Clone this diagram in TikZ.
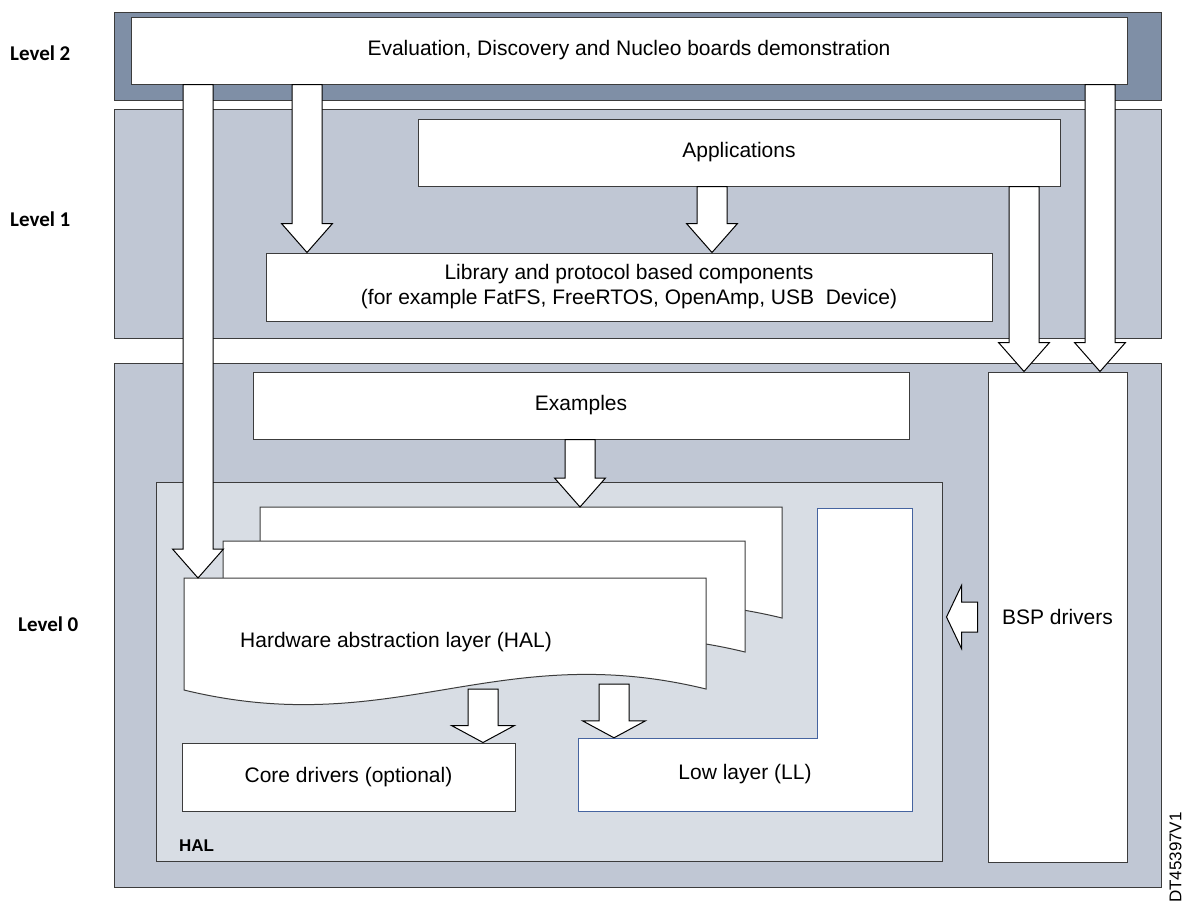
\documentclass[tikz,border=0pt]{standalone}
\usepackage{fontspec}
\setmainfont{Liberation Sans}
\newfontfamily\lvlfont{Carlito}
\usetikzlibrary{calc}
\definecolor{topband}{RGB}{127,143,166}
\definecolor{bandfill}{RGB}{192,199,212}
\definecolor{halgray}{RGB}{216,221,228}
\definecolor{edge}{RGB}{60,60,60}
\definecolor{lledge}{RGB}{70,100,160}

\newcommand\blkarrow[5]{%
  \draw[blk] let \p1=(#2), \p2=(#3) in
    (#1pt-15pt,\y1) -- (#1pt+15pt,\y1) -- (#1pt+15pt,\y2+#4pt)
    -- (#1pt+#5pt,\y2+#4pt) -- (#1pt,\y2) -- (#1pt-#5pt,\y2+#4pt)
    -- (#1pt-15pt,\y2+#4pt) -- cycle;}
\newcommand\halpage[2]{%
  \begin{scope}[shift={(#1,#2)}]
    \draw[page] (0,0) -- (522,0) -- (522,111)
      .. controls (313,60) and (209,163) .. (0,112) -- cycle;
  \end{scope}}

\begin{document}
\begin{tikzpicture}[x=1pt,y=-1pt,
  band/.style={draw=edge,line width=1pt,fill=#1,minimum width=1047,inner sep=0pt},
  box/.style={draw=edge,line width=1pt,fill=white,inner sep=0pt,align=center,
    font=\fontsize{21}{25}\selectfont},
  page/.style={draw=edge,line width=1pt,fill=white},
  blk/.style={draw=black,line width=1pt,fill=white,line join=miter},
  lvl/.style={anchor=west,inner sep=0pt,font=\lvlfont\bfseries\fontsize{21}{25}\selectfont}]
\useasboundingbox (0,0) rectangle (1192,906);

\node[band=topband,minimum height=88] (lvl2) at (637.5,56) {};
\node[band=bandfill,minimum height=229] (lvl1) at (637.5,223.5) {};
\node[band=bandfill,minimum height=524] (lvl0) at (637.5,625) {};

\node[box,minimum width=996,minimum height=67] (eval) at (629,50.5)
  {Evaluation, Discovery and Nucleo boards demonstration};
\node[box,minimum width=642,minimum height=67] (apps) at (739,152.5) {Applications};
\node[box,minimum width=726,minimum height=68] (lib) at (629,287)
  {Library and protocol based components\\(for example FatFS, FreeRTOS, OpenAmp, USB\ \ Device)};
\node[box,minimum width=656,minimum height=67] (examples) at (581,405.5) {Examples};
\node[draw=edge,line width=1pt,fill=halgray,minimum width=786,minimum height=379] (hal) at (549,671.5) {};
\node[box,minimum width=139,minimum height=490] (bsp) at (1057.5,617) {BSP drivers};
\node[box,minimum width=333,minimum height=68] (core) at (348.5,777) {Core drivers (optional)};

\filldraw[fill=white,draw=lledge,line width=0.8pt]
  (578,738) -- (817,738) -- (817,508) -- (912,508) -- (912,811) -- (578,811) -- cycle;
\node[inner sep=0pt,minimum width=334,minimum height=73,font=\fontsize{21}{25}\selectfont]
  (ll) at (745,774.5) {Low layer (LL)};
\node[anchor=west,inner sep=0pt,font=\bfseries\fontsize{17}{20}\selectfont] (hallbl) at (179,846) {HAL};

\coordinate (halA) at (483,689);
\coordinate (halB) at (614,684);
\blkarrow{483}{halA}{core.north}{17}{31.5}
\blkarrow{614}{halB}{ll.north}{17}{31.5}

\halpage{260}{507}
\halpage{223}{541}
\halpage{184}{578}
\coordinate (pageback) at (260,507);
\coordinate (pagefront) at (184,578);
\node[font=\fontsize{21}{25}\selectfont] (halpg) at (396,642) {Hardware abstraction layer (HAL)};

\blkarrow{198}{eval.south}{pagefront}{29}{25.5}
\blkarrow{307}{eval.south}{lib.north}{29}{25.5}
\blkarrow{712}{apps.south}{lib.north}{29}{25.5}
\blkarrow{1024}{apps.south}{bsp.north}{29}{25.5}
\blkarrow{1100}{eval.south}{bsp.north}{29}{25.5}
\blkarrow{580}{examples.south}{pageback}{29}{25.5}
\draw[blk] let \p1=(bsp.west), \p2=(hal.east) in
  (\x1-10pt,\y1+15pt) -- (\x2+19pt,\y1+15pt) -- (\x2+19pt,\y1+31.5pt) -- (\x2+4pt,\y1)
  -- (\x2+19pt,\y1-31.5pt) -- (\x2+19pt,\y1-15pt) -- (\x1-10pt,\y1-15pt) -- cycle;

\node[lvl] (l2) at (10,53) {Level 2};
\node[lvl] (l1) at (10,219) {Level 1};
\node[lvl] (l0) at (18,624) {Level 0};
\node[rotate=90,anchor=east,inner sep=0pt,font=\fontsize{17}{20}\selectfont] (docid) at (1175.5,812) {DT45397V1};
\end{tikzpicture}
\end{document}
